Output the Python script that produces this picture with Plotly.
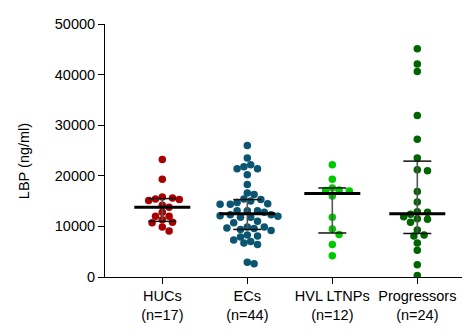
import plotly.graph_objects as go
import numpy as np

categories = ["HUCs<br>(n=17)", "ECs<br>(n=44)", "HVL LTNPs<br>(n=12)", "Progressors<br>(n=24)"]
colors = ["#a80000", "#0b5570", "#00c800", "#006400"]

huc = [23200, 19300, 15300, 15600, 15800, 15100, 15400, 14200, 13800, 12800, 12000,
       12000, 11300, 10800, 10700, 9900, 9100]
ec = [26000, 23500, 21800, 22200, 21400, 21400, 20200, 18300, 16600, 16300,
      15300, 15400, 14500, 15000, 14700, 14400, 14400, 13100, 13100, 13100,
      12800, 11800, 12300, 12300, 12000, 12100, 11800, 11000, 10700,
      9900, 9600, 9200, 9700, 9400, 9900, 8300, 8100, 7900, 7300,
      7000, 6700, 6400, 2900, 2600]
hvl = [22200, 19300, 17600, 17200, 17100, 17000, 16000, 11800, 9500, 8400, 6400, 4200]
prog = [45100, 42100, 40600, 31900, 27200, 23500, 21200, 21000, 16900, 14800,
        12900, 12800, 12400, 11500, 11400, 11900, 10800, 9300, 8100, 8300,
        6700, 5300, 2400, 300]

medians = [13800, 12500, 16500, 12500]
q1 = [11000, 9400, 8700, 8600]
q3 = [15500, 15300, 17600, 22900]

groups = [huc, ec, hvl, prog]

# pixel scales of the plot area
PX_PER_X = 85.0
PX_PER_Y = 260.0 / 50000.0


def swarm(vals, step=3.4, diam=6.9):
    order = np.argsort(vals)[::-1]
    placed = []
    offs = np.zeros(len(vals))
    cands = [0.0]
    for k in range(1, 40):
        cands += [k * step, -k * step]
    for i in order:
        y = vals[i] * PX_PER_Y
        for c in cands:
            ok = True
            for (px, py) in placed:
                if (px - c) ** 2 + (py - y) ** 2 < diam ** 2:
                    ok = False
                    break
            if ok:
                offs[i] = c
                placed.append((c, y))
                break
    return offs / PX_PER_X


fig = go.Figure()
for gi, vals in enumerate(groups):
    offs = swarm(vals)
    fig.add_trace(go.Scatter(
        x=[gi + o for o in offs], y=vals, mode="markers",
        marker=dict(size=7.5, color=colors[gi], line=dict(width=0)),
        showlegend=False, hoverinfo="y"))

mw, cw = 28 / PX_PER_X, 14 / PX_PER_X
vx, vy, cx, cy, mx, my = [], [], [], [], [], []
for gi in range(4):
    vx += [gi, gi, None]
    vy += [q1[gi], q3[gi], None]
    for q in (q1[gi], q3[gi]):
        cx += [gi - cw, gi + cw, None]
        cy += [q, q, None]
    mx += [gi - mw, gi + mw, None]
    my += [medians[gi], medians[gi], None]

fig.add_trace(go.Scatter(x=vx, y=vy, mode="lines", line=dict(color="#555555", width=1.6),
                         showlegend=False, hoverinfo="skip"))
fig.add_trace(go.Scatter(x=cx, y=cy, mode="lines", line=dict(color="#111111", width=1.5),
                         showlegend=False, hoverinfo="skip"))
fig.add_trace(go.Scatter(x=mx, y=my, mode="lines", line=dict(color="black", width=3),
                         showlegend=False, hoverinfo="skip"))

font = dict(family="Liberation Sans, Arial, sans-serif", size=14.5, color="black")

fig.update_layout(
    width=470, height=331,
    margin=dict(l=97, r=8, t=9, b=62),
    paper_bgcolor="white", plot_bgcolor="white",
    font=font,
    xaxis=dict(range=[-57.3 / PX_PER_X, 307.7 / PX_PER_X], tickmode="array",
               tickvals=[0, 1, 2, 3], ticktext=categories,
               showline=True, linecolor="black", linewidth=1,
               ticks="outside", ticklen=6, tickcolor="black",
               showgrid=False, zeroline=False, tickfont=font),
    yaxis=dict(range=[0, 50000], tickvals=[0, 10000, 20000, 30000, 40000, 50000],
               tickformat="d", showline=True, linecolor="black", linewidth=1,
               ticks="outside", ticklen=6, tickcolor="black",
               showgrid=False, zeroline=False, tickfont=font),
    annotations=[dict(text="LBP (ng/ml)", xref="paper", yref="paper", x=0, y=0.458,
                      xanchor="center", yanchor="middle", xshift=-81,
                      textangle=-90, showarrow=False, font=font)],
)

fig.write_html("out.html")
